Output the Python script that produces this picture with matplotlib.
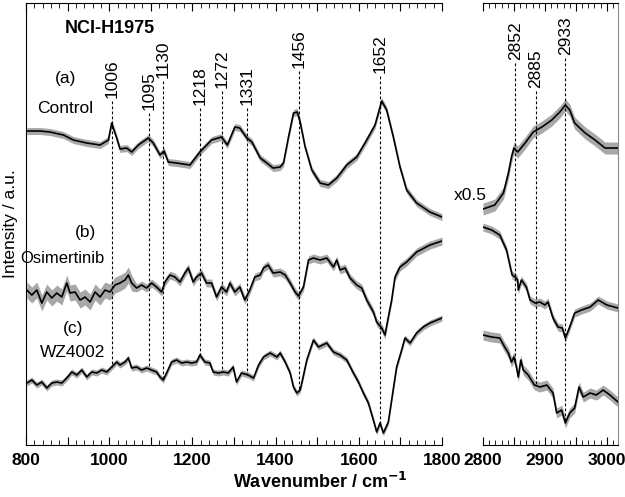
import numpy as np
import matplotlib
matplotlib.use("Agg")
import matplotlib.pyplot as plt
from matplotlib.ticker import MultipleLocator, FuncFormatter

plt.rcParams["font.family"] = ["Liberation Sans", "DejaVu Sans"]

# ---- spectra, left window (800-1800 cm-1) ----
ctrl_w = [802, 834, 858, 890, 914, 946, 978, 998, 1006, 1018, 1026, 1042, 1054, 1070, 1094,
          1106, 1122, 1132, 1142, 1162, 1194, 1218, 1246, 1270, 1284, 1302, 1314, 1331, 1343,
          1363, 1379, 1394, 1411, 1419, 1431, 1443, 1452, 1459, 1471, 1487, 1507, 1527, 1547,
          1571, 1595, 1619, 1639, 1651, 1655, 1667, 1683, 1699, 1715, 1739, 1771, 1800]
ctrl_i = [314, 314, 313, 310, 305, 302, 300, 305, 322, 307, 296, 297, 293, 300, 307,
          302, 290, 294, 283, 282, 280, 293, 305, 308, 300, 318, 317, 307, 303,
          287, 282, 277, 278, 282, 308, 332, 333, 323, 298, 275, 262, 260, 267,
          280, 288, 305, 320, 338, 344, 335, 308, 278, 255, 242, 233, 228]

osim_w = [802, 814, 826, 838, 850, 862, 874, 886, 898, 906, 918, 930, 942, 954, 966, 978,
          990, 1002, 1014, 1026, 1038, 1046, 1054, 1066, 1078, 1090, 1102, 1114, 1126, 1134,
          1146, 1158, 1170, 1182, 1190, 1202, 1210, 1222, 1234, 1246, 1258, 1270, 1282,
          1290, 1302, 1314, 1326, 1338, 1350, 1363, 1371, 1382, 1394, 1411, 1423, 1435, 1447,
          1455, 1467, 1479, 1491, 1507, 1523, 1539, 1547, 1555, 1567, 1579, 1595, 1607, 1619,
          1635, 1643, 1655, 1663, 1671, 1679, 1687, 1699, 1715, 1739, 1771, 1800]
osim_i = [155, 150, 155, 142, 153, 147, 152, 148, 162, 152, 153, 145, 148, 143, 153, 148,
          155, 153, 160, 162, 165, 170, 162, 157, 160, 157, 162, 158, 153, 163,
          170, 168, 163, 172, 177, 163, 168, 172, 162, 162, 148, 158, 153,
          162, 153, 158, 145, 155, 168, 170, 177, 180, 172, 173, 170, 162, 153,
          149, 158, 185, 187, 185, 187, 178, 185, 175, 177, 167, 160, 157, 145,
          133, 123, 117, 110, 128, 145, 168, 178, 183, 193, 200, 204]

wz_w = [802, 814, 826, 838, 850, 862, 874, 886, 898, 910, 922, 934, 946, 958, 970, 982,
        994, 1006, 1018, 1026, 1038, 1046, 1054, 1066, 1078, 1090, 1102, 1114, 1122, 1130,
        1138, 1150, 1162, 1174, 1186, 1198, 1210, 1218, 1230, 1242, 1250, 1262, 1274, 1286,
        1298, 1306, 1318, 1334, 1347, 1359, 1371, 1387, 1403, 1411, 1423, 1435, 1443, 1451,
        1459, 1463, 1475, 1491, 1503, 1523, 1539, 1555, 1571, 1587, 1599, 1611, 1623, 1635,
        1643, 1651, 1659, 1671, 1679, 1691, 1703, 1711, 1723, 1739, 1755, 1771, 1800]
wz_i = [62, 65, 60, 63, 57, 62, 63, 62, 67, 73, 70, 75, 68, 73, 72, 75,
        73, 78, 83, 80, 83, 87, 77, 78, 75, 77, 75, 73, 68, 65,
        72, 83, 85, 82, 83, 82, 83, 90, 83, 82, 73, 72, 73, 72,
        78, 63, 72, 70, 67, 80, 88, 92, 88, 92, 83, 72, 58, 52,
        55, 62, 85, 105, 98, 102, 93, 90, 85, 72, 63, 52, 42, 25,
        13, 22, 12, 23, 45, 78, 95, 107, 102, 112, 118, 122, 127]

# ---- spectra, right window (2800-3020 cm-1, x0.5) ----
ctrl_w2 = [2800, 2819, 2833, 2841, 2846, 2850, 2856, 2868, 2881, 2895, 2911, 2924, 2933,
           2940, 2948, 2965, 2981, 2997, 3018]
ctrl_i2 = [236, 240, 252, 272, 288, 297, 293, 302, 313, 318, 325, 333, 340,
           335, 322, 312, 305, 297, 297]

osim_w2 = [2800, 2814, 2827, 2838, 2844, 2847, 2852, 2856, 2857, 2862, 2870, 2876, 2884,
           2892, 2900, 2905, 2913, 2921, 2928, 2933, 2940, 2948, 2959, 2973, 2986, 3000, 3018]
osim_i2 = [218, 215, 210, 195, 178, 170, 168, 165, 155, 165, 158, 145, 142,
           143, 140, 143, 127, 118, 117, 107, 118, 132, 135, 138, 145, 140, 137]

wz_w2 = [2800, 2814, 2827, 2835, 2841, 2846, 2850, 2854, 2857, 2861, 2865, 2873, 2883, 2892,
         2903, 2913, 2919, 2927, 2933, 2940, 2948, 2955, 2962, 2973, 2983, 2994, 3005, 3018]
wz_i2 = [110, 108, 107, 98, 92, 83, 88, 78, 68, 85, 75, 70, 60, 58,
         60, 52, 32, 35, 22, 32, 37, 58, 48, 52, 50, 55, 50, 43]

# band half widths (std) read from the grey envelopes
ctrl_sd = [3.5, 6]
osim_sd_low, osim_sd_high, osim_sd_split = 8, 4, 1060
osim_sd2 = 4
wz_sd = [3, 5]

# peak labels: wavenumber and height of the label base
peaks = [1006, 1095, 1130, 1218, 1272, 1331, 1456, 1652]
peak_y = [347, 335, 367, 340, 357, 340, 377, 372]
peaks2 = [2852, 2885, 2933]
peak_y2 = [385, 357, 390]

fig = plt.figure(figsize=(6.25, 4.97), dpi=100)
ax1 = fig.add_axes([0.0416, 0.1046, 0.6656, 0.8893])
ax2 = fig.add_axes([0.7728, 0.1046, 0.216, 0.8893])

band = "#a8a8a8"


def spec(ax, w, i, sd):
    w = np.array(w, float)
    i = np.array(i, float)
    sd = np.broadcast_to(np.asarray(sd, float), i.shape)
    ax.fill_between(w, i - sd, i + sd, color=band, lw=0)
    ax.plot(w, i, color="k", lw=1.2)


spec(ax1, ctrl_w, ctrl_i, ctrl_sd[0])
osim_band = np.where(np.array(osim_w) < osim_sd_split, osim_sd_low, osim_sd_high)
spec(ax1, osim_w, osim_i, osim_band)
spec(ax1, wz_w, wz_i, wz_sd[0])

spec(ax2, ctrl_w2, ctrl_i2, ctrl_sd[1])
spec(ax2, osim_w2, osim_i2, osim_sd2)
spec(ax2, wz_w2, wz_i2, wz_sd[1])

for ax, pk, py, ww, wi in [(ax1, peaks, peak_y, wz_w, wz_i), (ax2, peaks2, peak_y2, wz_w2, wz_i2)]:
    for p, y in zip(pk, py):
        end = np.interp(p, ww, wi)
        ax.plot([p, p], [y - 3, end], color="k", lw=0.8, ls=(0, (2.5, 2)))
        ax.text(p, y, str(p), rotation=90, ha="center", va="bottom", fontsize=12.5)

for ax in (ax1, ax2):
    ax.set_ylim(0, 442)
    ax.set_yticks([])
    ax.tick_params(axis="x", which="both", direction="in", top=True, bottom=True,
                   labelsize=12.5, pad=6)
    ax.tick_params(axis="x", which="major", length=6)
    ax.tick_params(axis="x", which="minor", length=3.5)

ax1.set_xlim(800, 1800)
ax1.xaxis.set_major_locator(MultipleLocator(100))
ax1.xaxis.set_minor_locator(MultipleLocator(20))
ax1.xaxis.set_major_formatter(FuncFormatter(lambda v, p: f"{v:.0f}" if round(v) % 200 == 0 else ""))
ax1.spines["right"].set_visible(False)

ax2.set_xlim(2800, 3018)
ax2.xaxis.set_major_locator(MultipleLocator(50))
ax2.xaxis.set_minor_locator(MultipleLocator(10))
ax2.xaxis.set_major_formatter(FuncFormatter(lambda v, p: f"{v:.0f}" if round(v) % 100 == 0 else ""))
ax2.spines["left"].set_visible(False)
ax2.spines["right"].set_color("#8a8a8a")

for ax in (ax1, ax2):
    for lab in ax.get_xticklabels():
        lab.set_fontweight("bold")

ax1.text(1002, 417, "NCI-H1975", ha="center", va="center", fontsize=13, fontweight="bold")
ax1.text(896, 367, "(a)", ha="center", va="center", fontsize=12.5)
ax1.text(894, 337, "Control", ha="center", va="center", fontsize=12.5)
ax1.text(942, 213, "(b)", ha="center", va="center", fontsize=12.5)
ax1.text(887, 187, "Osimertinib", ha="center", va="center", fontsize=12)
ax1.text(913, 117, "(c)", ha="center", va="center", fontsize=12.5)
ax1.text(911, 93, "WZ4002", ha="center", va="center", fontsize=12.5)
fig.text(0.752, 0.606, "x0.5", ha="center", va="center", fontsize=12.5)

fig.text(0.017, 0.55, "Intensity / a.u.", rotation=90, ha="center", va="center", fontsize=12.5)
fig.text(0.512, 0.03, r"Wavenumber / cm$^{\mathbf{-1}}$", ha="center", va="center",
         fontsize=13, fontweight="bold")

fig.savefig("out.png", dpi=100)
